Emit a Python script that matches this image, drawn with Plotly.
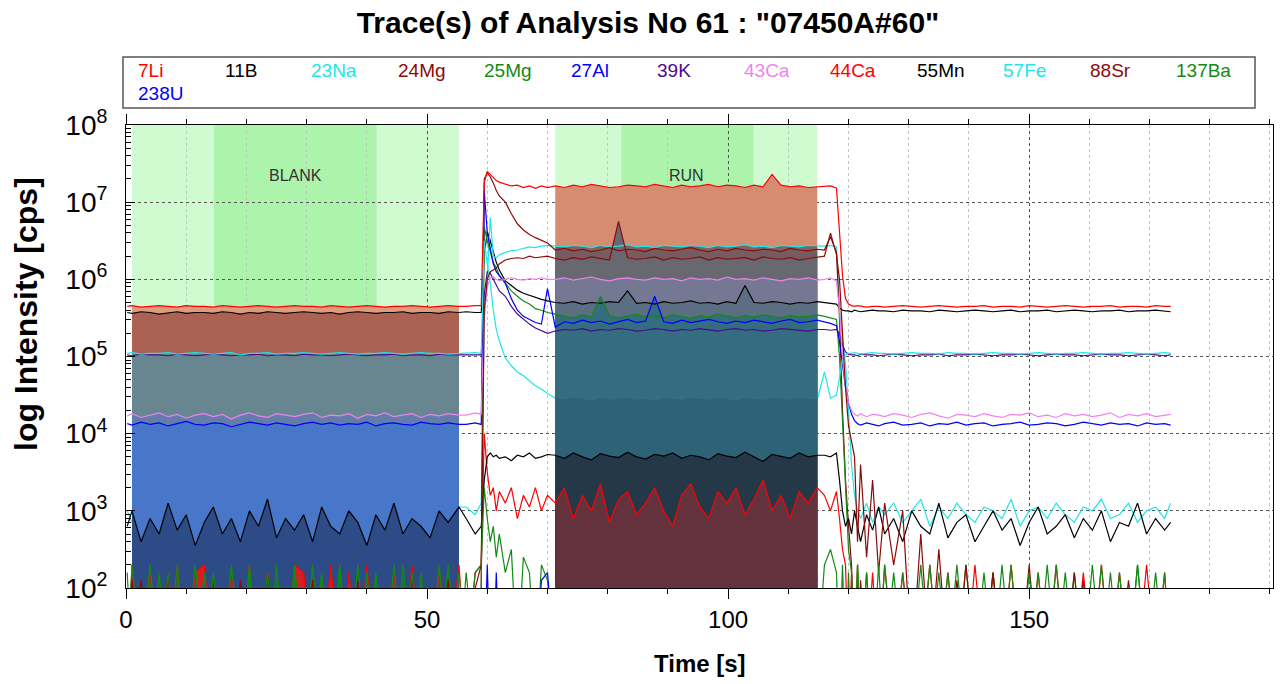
import plotly.graph_objects as go

# ---------------- data (time in s, intensities as log10 cps) ----------
T = [0.2, 1.0, 2.5, 4.0, 5.5, 7.0, 8.5, 10.0, 11.5, 13.0, 14.5, 16.0, 17.5, 19.0, 20.5, 22.0, 23.5, 25.0, 26.5,
     28.0, 29.5, 31.0, 32.5, 34.0, 35.5, 37.0, 38.5, 40.0, 41.5, 43.0, 44.5, 46.0, 47.5, 49.0, 50.5, 52.0, 53.5, 55.3,
     56.5, 58.0, 59.0, 59.5, 60.0, 60.5, 61.0, 61.5, 62.0, 63.0, 64.0, 65.0, 66.0, 67.0, 68.0, 69.0, 70.0,
     71.3, 72.8, 74.3, 75.8, 77.3, 78.8, 80.3, 81.8, 83.3, 84.8, 86.3, 87.8, 89.3, 90.8, 92.3, 93.8, 95.3, 96.8,
     98.3, 99.8, 101.3, 102.8, 104.3, 105.8, 107.3, 108.8, 110.3, 111.8, 113.3, 114.8,
     116.0, 117.0, 118.0, 118.5, 119.0, 119.5, 120.0, 120.5, 121.0, 121.5, 122.0, 123.0, 124.0, 125.0,
     126.0, 127.5, 129.0, 130.5, 132.0, 133.5, 135.0, 136.5, 138.0, 139.5, 141.0, 142.5, 144.0, 145.5, 147.0,
     148.5, 150.0, 151.5, 153.0, 154.5, 156.0, 157.5, 159.0, 160.5, 162.0, 163.5, 165.0, 166.5, 168.0, 169.5,
     171.0, 172.5, 173.5]

LI7 = [1.0,2.3,1.0,2.2,1.0,1.0,2.3,1.0,2.2,2.3, 1.0,1.0,2.2,1.0,2.3,1.0,2.2,1.0,1.0,2.3, 2.2,1.0,1.0,2.3,1.0,2.2,1.0,2.3,1.0,1.0, 2.2,1.0,2.3,1.0,1.0,2.2,1.0,2.3,
       1.0,2.2,2.3,4.00,3.50,3.20,3.30,3.00,3.25,3.10,3.30,2.90,3.20,3.05,3.30,3.00,3.20,
       3.10,3.30,2.90,3.20,3.00,3.35,2.85,3.15,3.25,2.95, 3.10,3.30,3.00,2.80,3.20,3.35,3.05,2.90,3.25,3.10, 3.30,2.95,3.15,3.40,3.00,3.20,2.90,3.25,3.10,3.30,
       3.20,3.00,3.25,2.90,2.50,2.30,1.0,2.2,1.0,2.3,1.0,1.0,2.2,1.0,
       2.3,1.0,2.2,1.0,1.0,2.3,1.0,2.2,1.0,1.0, 2.3,1.0,2.2,1.0,2.3,1.0,1.0,2.2,1.0,2.3, 1.0,1.0,2.2,1.0,2.3,1.0,2.2,1.0,1.0,2.3, 1.0,2.2,1.0]
B11 = [5.57,5.56,5.58,5.57,5.55,5.57,5.58,5.56,5.57,5.57, 5.56,5.58,5.57,5.55,5.57,5.56,5.58,5.57,5.56,5.57, 5.58,5.57,5.56,5.57,5.55,5.57,5.58,5.57,5.56,5.57, 5.57,5.58,5.56,5.57,5.57,5.56,5.58,5.57,
       5.58,5.57,5.57,6.30,6.62,6.50,6.36,6.22,6.12,5.98,5.92,5.86,5.82,5.79,5.76,5.74,5.72,
       5.70,5.69,5.71,5.68,5.70,5.69,5.71,5.70,5.85,5.69, 5.70,5.68,5.71,5.69,5.70,5.72,5.69,5.70,5.68,5.71, 5.69,5.92,5.70,5.69,5.71,5.70,5.68,5.70,5.69,5.71,
       5.70,5.69,5.68,5.63,5.60,5.59,5.59,5.58,5.60,5.59,5.58,5.59,5.60,5.59,
       5.59,5.58,5.60,5.59,5.59,5.58,5.60,5.59,5.58,5.59, 5.60,5.59,5.58,5.59,5.60,5.58,5.59,5.59,5.60,5.58, 5.59,5.60,5.59,5.58,5.59,5.59,5.60,5.58,5.59,5.59, 5.60,5.59,5.58]
NA23 = [3.00,2.85,3.10,2.95,3.05,2.80,3.00,3.15,2.90,3.05, 2.95,3.10,2.85,3.00,3.05,2.90,3.10,2.95,3.00,2.85, 3.05,3.00,2.90,3.10,2.95,3.05,2.85,3.00,3.10,2.95, 3.00,2.90,3.05,2.95,3.10,2.85,3.00,3.05,
        3.05,2.95,3.10,5.50,6.00,6.80,6.30,6.28,6.32,6.35,6.37,6.38,6.40,6.42,6.41,6.43,6.44,
        6.43,6.42,6.44,6.43,6.41,6.44,6.42,6.43,6.45,6.42, 6.43,6.41,6.44,6.43,6.42,6.44,6.43,6.41,6.44,6.42, 6.43,6.45,6.42,6.43,6.41,6.44,6.43,6.42,6.44,6.43,
        6.43,6.44,6.42,5.60,5.20,4.90,4.30,3.60,3.20,3.00,2.90,3.10,2.85,3.05,
        2.95,3.10,2.85,3.00,3.15,2.80,3.05,2.90,3.10,2.95, 2.85,3.05,3.00,2.90,3.15,2.80,3.00,3.05,2.90,3.10, 2.95,2.85,3.05,3.00,3.15,2.90,2.95,3.10,2.85,3.00, 3.05,2.90,3.10]
MG24 = [1.0,1.0,2.1,1.0,1.0,1.0,1.0,2.0,1.0,1.0, 1.0,1.0,1.0,2.1,1.0,1.0,1.0,1.0,1.0,1.0, 2.0,1.0,1.0,1.0,1.0,1.0,2.1,1.0,1.0,1.0, 1.0,1.0,1.0,2.0,1.0,1.0,1.0,1.0,
        1.0,1.0,2.0,7.30,7.38,7.33,7.25,7.15,7.08,7.00,6.85,6.72,6.64,6.58,6.54,6.50,6.47,
        6.38,6.40,6.37,6.39,6.36,6.38,6.41,6.37,6.39,6.38, 6.36,6.40,6.38,6.37,6.39,6.41,6.38,6.36,6.39,6.37, 6.40,6.38,6.37,6.39,6.38,6.36,6.40,6.38,6.37,6.39,
        6.38,6.55,6.35,5.50,4.30,3.40,2.80,2.30,1.0,1.0,2.1,1.0,1.0,1.0,
        1.0,1.0,2.0,1.0,1.0,1.0,1.0,1.0,2.1,1.0, 1.0,1.0,1.0,1.0,1.0,2.0,1.0,1.0,1.0,1.0, 1.0,1.0,2.1,1.0,1.0,1.0,1.0,1.0,1.0,2.0, 1.0,1.0,1.0]
MG25 = [1.0,2.3,1.0,1.0,2.2,1.0,2.3,1.0,1.0,2.2, 1.0,1.0,2.3,1.0,2.2,1.0,1.0,2.3,1.0,2.2, 1.0,2.3,1.0,1.0,2.2,1.0,2.3,1.0,2.2,1.0, 1.0,2.3,1.0,2.2,1.0,1.0,2.3,1.0,
        2.2,1.0,2.0,6.68,6.50,6.35,6.22,6.15,6.05,5.95,5.85,5.78,5.72,5.68,5.62,5.60,5.57,
        5.55,5.52,5.50,5.54,5.51,5.78,5.53,5.50,5.52,5.55, 5.51,5.53,5.50,5.54,5.52,5.49,5.53,5.51,5.55,5.52, 5.50,5.53,5.51,5.54,5.52,5.50,5.53,5.51,5.52,5.54,
        5.52,5.50,5.48,5.00,4.20,3.30,2.50,2.20,1.0,2.3,1.0,2.2,1.0,1.0,
        2.3,1.0,2.2,1.0,1.0,2.3,1.0,2.2,1.0,2.3, 1.0,1.0,2.2,1.0,2.3,1.0,1.0,2.2,1.0,2.3, 1.0,2.2,1.0,1.0,2.3,1.0,2.2,1.0,2.3,1.0, 1.0,2.2,1.0]
AL27 = [4.13,4.11,4.15,4.12,4.14,4.10,4.13,4.16,4.12,4.11, 4.14,4.13,4.09,4.12,4.15,4.13,4.11,4.14,4.12,4.10, 4.13,4.15,4.12,4.14,4.11,4.13,4.12,4.15,4.10,4.13, 4.14,4.12,4.11,4.15,4.13,4.12,4.14,4.12,
        4.12,4.14,4.12,7.15,6.60,6.40,6.20,6.10,6.05,5.95,5.75,5.60,5.52,5.48,5.44,5.42,5.88,
        5.38,5.45,5.43,5.47,5.44,5.46,5.42,5.45,5.48,5.44, 5.46,5.78,5.45,5.43,5.47,5.44,5.46,5.48,5.45,5.43, 5.46,5.44,5.47,5.45,5.43,5.46,5.48,5.44,5.45,5.47,
        5.45,5.43,5.40,5.20,4.90,4.60,4.40,4.25,4.17,4.13,4.11,4.14,4.12,4.10,
        4.13,4.15,4.11,4.12,4.14,4.10,4.13,4.12,4.15,4.11, 4.13,4.14,4.10,4.12,4.13,4.15,4.11,4.12,4.14,4.13, 4.10,4.12,4.15,4.13,4.11,4.14,4.12,4.13,4.10,4.14, 4.12,4.13,4.11]
K39 = [5.02,5.01,5.03,5.02,5.02,5.01,5.03,5.02,5.01,5.02, 5.03,5.02,5.01,5.02,5.02,5.03,5.01,5.02,5.02,5.01, 5.03,5.02,5.02,5.01,5.02,5.03,5.02,5.01,5.02,5.02, 5.03,5.01,5.02,5.02,5.01,5.03,5.02,5.02,
       5.02,5.02,5.02,5.80,6.10,6.08,6.00,5.92,5.85,5.78,5.65,5.55,5.48,5.42,5.37,5.33,5.30,
       5.33,5.35,5.34,5.36,5.33,5.35,5.34,5.36,5.35,5.33, 5.34,5.36,5.35,5.33,5.35,5.34,5.36,5.34,5.33,5.35, 5.36,5.34,5.35,5.33,5.34,5.36,5.35,5.34,5.33,5.35,
       5.35,5.34,5.35,5.30,5.15,5.06,5.03,5.02,5.02,5.01,5.03,5.02,5.02,5.01,
       5.02,5.03,5.02,5.01,5.02,5.02,5.03,5.01,5.02,5.02, 5.03,5.02,5.01,5.02,5.02,5.03,5.02,5.01,5.02,5.03, 5.02,5.02,5.01,5.02,5.03,5.02,5.02,5.01,5.02,5.03, 5.02,5.01,5.02]
CA43 = [4.23,4.26,4.21,4.24,4.27,4.22,4.25,4.20,4.24,4.26, 4.22,4.25,4.19,4.24,4.27,4.23,4.21,4.26,4.24,4.22, 4.25,4.27,4.21,4.24,4.23,4.26,4.20,4.25,4.23,4.27, 4.22,4.24,4.26,4.21,4.25,4.23,4.26,4.24,
        4.24,4.27,4.25,5.50,5.90,6.02,6.03,6.00,5.98,6.00,6.02,6.00,5.99,6.01,6.00,6.02,6.00,
        6.00,6.02,5.99,6.01,6.03,6.00,5.98,6.01,6.02,6.00, 5.99,6.02,6.00,6.01,5.98,6.02,6.00,6.01,5.99,6.03, 6.00,6.01,5.99,6.02,6.00,5.98,6.01,6.00,6.02,5.99,
        6.00,6.02,5.98,5.60,5.00,4.60,4.40,4.30,4.25,4.23,4.26,4.22,4.25,4.24,
        4.22,4.26,4.24,4.21,4.25,4.27,4.23,4.20,4.25,4.24, 4.22,4.26,4.23,4.21,4.25,4.24,4.27,4.22,4.24,4.21, 4.26,4.23,4.25,4.22,4.24,4.27,4.21,4.25,4.23,4.26, 4.22,4.24,4.25]
CA44 = [5.65,5.66,5.64,5.65,5.66,5.65,5.64,5.66,5.65,5.65, 5.64,5.66,5.65,5.64,5.65,5.66,5.65,5.64,5.65,5.66, 5.65,5.65,5.64,5.66,5.65,5.64,5.65,5.66,5.65,5.64, 5.65,5.65,5.66,5.65,5.64,5.65,5.66,5.65,
        5.65,5.66,5.66,7.25,7.40,7.36,7.32,7.28,7.26,7.23,7.21,7.22,7.19,7.21,7.18,7.21,7.19,
        7.21,7.19,7.22,7.20,7.23,7.21,7.19,7.20,7.22,7.21, 7.20,7.23,7.21,7.19,7.22,7.20,7.21,7.23,7.20,7.22, 7.21,7.19,7.22,7.20,7.36,7.22,7.20,7.21,7.19,7.20,
        7.20,7.21,7.18,6.60,6.05,5.75,5.68,5.66,5.65,5.66,5.65,5.64,5.65,5.65,
        5.64,5.65,5.66,5.65,5.64,5.65,5.66,5.65,5.64,5.65, 5.65,5.66,5.64,5.65,5.65,5.64,5.66,5.65,5.64,5.65, 5.66,5.65,5.64,5.65,5.65,5.66,5.64,5.65,5.65,5.64, 5.66,5.65,5.65]
MN55 = [2.80,3.00,2.60,2.90,2.70,3.10,2.75,2.95,2.55,2.85, 3.05,2.70,2.90,2.60,3.00,2.80,3.15,2.65,2.90,2.75, 2.95,2.60,3.05,2.80,2.70,3.00,2.85,2.55,2.95,2.75, 3.10,2.70,2.90,2.80,2.65,3.00,2.85,3.05,
        2.90,2.70,2.80,3.40,3.70,3.75,3.70,3.72,3.68,3.70,3.65,3.72,3.70,3.75,3.68,3.70,3.73,
        3.72,3.68,3.75,3.70,3.66,3.74,3.71,3.69,3.76,3.70, 3.67,3.73,3.71,3.75,3.68,3.72,3.70,3.66,3.74,3.71, 3.69,3.76,3.70,3.64,3.73,3.71,3.68,3.75,3.70,3.72,
        3.72,3.70,3.75,3.40,3.00,2.80,2.90,2.70,3.00,2.80,2.60,2.95,2.75,3.05,
        2.70,2.90,2.60,3.00,2.80,2.70,3.10,2.65,2.85,2.95, 2.60,2.80,3.00,2.75,2.90,2.55,2.85,3.05,2.70,2.80, 2.95,2.65,2.90,2.75,3.00,2.60,2.85,2.80,3.10,2.70, 2.90,2.75,2.85]
FE57 = [5.04,5.05,5.03,5.04,5.04,5.05,5.03,5.04,5.05,5.04, 5.03,5.04,5.05,5.02,5.04,5.04,5.05,5.03,5.04,5.04, 5.05,5.04,5.03,5.04,5.05,5.04,5.03,5.04,5.04,5.05, 5.04,5.03,5.04,5.05,5.04,5.04,5.03,5.04,
        5.04,5.05,5.04,6.50,6.20,5.95,5.60,5.35,5.20,4.98,4.88,4.80,4.75,4.68,4.62,4.58,4.52,
        4.46,4.44,4.47,4.45,4.43,4.46,4.44,4.45,4.47,4.44, 4.45,4.43,4.46,4.45,4.44,4.47,4.45,4.44,4.46,4.45, 4.43,4.46,4.45,4.44,4.47,4.45,4.44,4.46,4.45,4.44,
        4.80,4.46,4.50,4.70,4.95,5.02,5.04,5.04,5.05,5.04,5.03,5.04,5.05,5.04,
        5.04,5.03,5.04,5.05,5.04,5.04,5.03,5.05,5.04,5.04, 5.03,5.04,5.05,5.04,5.04,5.03,5.04,5.05,5.04,5.03, 5.04,5.04,5.05,5.04,5.03,5.04,5.04,5.05,5.04,5.03, 5.04,5.05,5.04]
SR88 = [1.0,2.1,1.0,1.0,1.0,2.2,1.0,1.0,1.0,1.0, 2.1,1.0,1.0,1.0,1.0,1.0,2.2,1.0,1.0,1.0, 1.0,2.1,1.0,1.0,1.0,1.0,1.0,2.0,1.0,1.0, 1.0,1.0,2.2,1.0,1.0,1.0,2.1,1.0,
        1.0,2.0,2.3,5.60,6.00,6.10,6.12,6.15,6.20,6.25,6.27,6.28,6.27,6.30,6.28,6.29,6.30,
        6.27,6.25,6.28,6.26,6.29,6.27,6.25,6.75,6.28,6.26, 6.27,6.29,6.25,6.28,6.26,6.27,6.29,6.25,6.28,6.26, 6.27,6.28,6.25,6.29,6.27,6.26,6.28,6.25,6.27,6.29,
        6.30,6.60,6.32,6.00,5.30,4.60,4.10,3.90,3.70,2.60,3.60,2.40,3.40,2.20,
        3.10,2.30,3.00,1.0,2.70,1.0,2.50,1.0,1.0,2.30, 1.0,1.0,2.20,1.0,1.0,1.0,2.30,1.0,1.0,1.0, 1.0,2.20,1.0,1.0,1.0,1.0,1.0,2.10,1.0,1.0, 1.0,1.0,1.0]
BA137 = [2.2,1.0,1.0,2.3,1.0,2.2,1.0,1.0,2.3,1.0, 2.2,1.0,1.0,1.0,2.3,1.0,2.2,1.0,1.0,2.3, 1.0,1.0,2.2,1.0,2.3,1.0,1.0,2.2,1.0,1.0, 2.3,1.0,2.2,1.0,1.0,2.3,1.0,2.2,
         1.0,2.2,2.3,3.30,2.90,2.60,2.80,2.40,2.70,2.20,2.50,1.0,2.40,2.20,1.0,2.30,2.10,
         1.0,1.0,1.0,1.0,1.0,1.0,1.0,1.0,1.0,1.0, 1.0,1.0,1.0,1.0,1.0,1.0,1.0,1.0,1.0,1.0, 1.0,1.0,1.0,1.0,1.0,1.0,1.0,1.0,1.0,1.0,
         2.3,2.5,2.2,1.0,2.3,1.0,2.2,1.0,1.0,2.3,1.0,2.2,1.0,2.3,
         1.0,2.2,1.0,1.0,2.3,1.0,2.2,1.0,2.3,1.0, 1.0,2.2,1.0,2.3,1.0,1.0,2.2,1.0,2.3,1.0, 2.2,1.0,1.0,2.3,1.0,2.2,1.0,1.0,2.3,1.0, 2.2,1.0,1.0]
U238 = [1.0,1.0,1.0,1.0,1.0,1.0,1.0,1.0,1.0,1.0, 1.0,1.0,1.0,1.0,1.0,1.0,1.0,1.0,1.0,1.0, 1.0,1.0,1.0,1.0,1.0,1.0,1.0,1.0,1.0,1.0, 1.0,1.0,1.0,1.0,1.0,1.0,1.0,1.0,
        1.0,1.0,1.0,1.0,2.30,1.0,1.0,2.20,1.0,1.0,1.0,1.0,1.0,1.0,1.0,2.10,2.20,
        1.0,1.0,1.0,1.0,1.0,1.0,1.0,1.0,1.0,1.0, 1.0,1.0,1.0,1.0,1.0,1.0,1.0,1.0,1.0,1.0, 1.0,1.0,1.0,1.0,1.0,1.0,1.0,1.0,1.0,1.0,
        1.0,1.0,1.0,1.0,1.0,1.0,1.0,1.0,1.0,1.0,1.0,1.0,1.0,1.0,
        1.0,1.0,1.0,1.0,1.0,1.0,1.0,1.0,1.0,1.0, 1.0,1.0,1.0,1.0,1.0,1.0,1.0,1.0,1.0,1.0, 1.0,1.0,1.0,1.0,1.0,1.0,1.0,1.0,1.0,1.0, 1.0,1.0,1.0]

NAMES = ["7Li", "11B", "23Na", "24Mg", "25Mg", "27Al", "39K", "43Ca", "44Ca", "55Mn", "57Fe", "88Sr", "137Ba", "238U"]
SERIES = [LI7, B11, NA23, MG24, MG25, AL27, K39, CA43, CA44, MN55, FE57, SR88, BA137, U238]
COLORS = ["#FF0000", "#000000", "#1EE6E6", "#8B0A0A", "#138A13", "#0000FF", "#4B0A8C", "#EE82EE",
          "#FF0000", "#000000", "#1EE6E6", "#8B0A0A", "#138A13", "#0000FF"]

# integration windows: name, start, end, inner (darker) start, inner end
WINDOWS = [("BLANK", 1.0, 55.3, 14.6, 41.6), ("RUN", 71.3, 114.8, 82.3, 104.2)]
# fill order (top level first) and band colours per window
FILLS = {
    "BLANK": [("44Ca", "rgb(224,155,127)"), ("11B", "rgb(172,98,82)"), ("57Fe", "rgb(103,134,143)"),
              ("39K", "rgb(103,134,143)"), ("43Ca", "rgb(98,124,172)"), ("27Al", "rgb(72,118,200)"),
              ("23Na", "rgb(72,118,200)"), ("55Mn", "rgb(45,75,135)"), ("7Li", "rgb(215,30,35)"),
              ("25Mg", "rgb(30,108,80)"), ("137Ba", "rgb(30,108,80)"), ("24Mg", "rgb(110,40,50)"),
              ("88Sr", "rgb(110,40,50)"), ("238U", "rgb(50,90,170)")],
    "RUN": [("44Ca", "rgb(214,140,112)"), ("23Na", "rgb(128,98,96)"), ("24Mg", "rgb(118,92,96)"),
            ("88Sr", "rgb(104,104,112)"), ("43Ca", "rgb(116,120,146)"), ("11B", "rgb(92,110,130)"),
            ("25Mg", "rgb(52,108,128)"), ("27Al", "rgb(52,108,128)"), ("39K", "rgb(52,108,128)"),
            ("57Fe", "rgb(46,98,118)"), ("55Mn", "rgb(36,56,72)"), ("7Li", "rgb(100,50,60)"),
            ("137Ba", "rgb(100,50,60)"), ("238U", "rgb(100,50,60)")],
}
FLOOR = 1.0  # log10 cps, below the axis

for n, s in zip(NAMES, SERIES):
    assert len(s) == len(T), (n, len(s), len(T))

LIN = {n: [10 ** v for v in s] for n, s in zip(NAMES, SERIES)}
COL = dict(zip(NAMES, COLORS))

# ---------------- layout geometry (pixels) ----------------
W, H = 1280, 684
ML, MR, MT, MB = 126, 7, 125, 96
PW, PH = W - ML - MR, H - MT - MB


def px(xp):
    return (xp - ML) / PW


def py(yp):
    return (H - MB - yp) / PH


fig = go.Figure()


def line(name, idx):
    fig.add_trace(go.Scatter(x=[T[i] for i in idx], y=[LIN[name][i] for i in idx], mode="lines",
                             line=dict(color=COL[name], width=1.2), hoverinfo="skip", showlegend=False))


ALL = list(range(len(T)))
# lines hidden underneath the window fills in the original drawing
line("23Na", [i for i in ALL if T[i] <= 58.0])
line("57Fe", [i for i in ALL if 70.0 <= T[i] <= 116.0])

# window fills
for wname, a, b, _, _ in WINDOWS:
    idx = [i for i in ALL if a <= T[i] <= b]
    for name, fc in FILLS[wname]:
        xs = [a] + [T[i] for i in idx] + [b]
        ys = [10 ** FLOOR] + [LIN[name][i] for i in idx] + [10 ** FLOOR]
        fig.add_trace(go.Scatter(x=xs, y=ys, mode="lines", fill="toself", fillcolor=fc,
                                 line=dict(width=0), hoverinfo="skip", showlegend=False))

# visible lines, in legend order
for name in NAMES:
    if name == "23Na":
        line(name, [i for i in ALL if T[i] >= 58.0])
    elif name == "57Fe":
        line(name, [i for i in ALL if T[i] <= 70.0])
        line(name, [i for i in ALL if T[i] >= 116.0])
    else:
        line(name, ALL)

shapes = []
annotations = []
for wname, a, b, ia, ib in WINDOWS:
    shapes.append(dict(type="rect", xref="x", yref="paper", x0=a, x1=b, y0=0, y1=1,
                       fillcolor="rgb(208,250,208)", line=dict(width=0), layer="below"))
    shapes.append(dict(type="rect", xref="x", yref="paper", x0=ia, x1=ib, y0=0, y1=1,
                       fillcolor="rgb(172,243,172)", line=dict(width=0), layer="below"))
    annotations.append(dict(x=(a + b) / 2, y=py(175), xref="x", yref="paper", text=wname, showarrow=False,
                            font=dict(size=16, color="#333333"), xanchor="center", yanchor="middle"))

# legend box with coloured names
shapes.append(dict(type="rect", xref="paper", yref="paper", x0=px(123), x1=px(1255), y0=py(108), y1=py(57),
                   fillcolor="white", line=dict(color="#555555", width=1.5), layer="above"))
for k, name in enumerate(NAMES):
    row, col = divmod(k, 13)
    annotations.append(dict(x=px(136 + 86.5 * col), y=py(70 + 24 * row), xref="paper", yref="paper", text=name,
                            showarrow=False, xanchor="left", yanchor="middle",
                            font=dict(size=19, color=COL[name])))

annotations.append(dict(x=px(700), y=py(663), xref="paper", yref="paper", text="<b>Time [s]</b>",
                        showarrow=False, xanchor="center", yanchor="middle", font=dict(size=24, color="black")))
annotations.append(dict(x=px(26), y=py(314), xref="paper", yref="paper", text="<b>log Intensity [cps]</b>",
                        showarrow=False, textangle=-90, xanchor="center", yanchor="middle",
                        font=dict(size=32, color="black")))

YT = [1e2, 1e3, 1e4, 1e5, 1e6, 1e7, 1e8]
YTT = ["10<sup>2</sup>", "10<sup>3</sup>", "10<sup>4</sup>", "10<sup>5</sup>", "10<sup>6</sup>", "10<sup>7</sup>",
       "10<sup>8</sup>"]
XT = [0, 50, 100, 150]

fig.update_layout(
    width=W, height=H, margin=dict(l=ML, r=MR, t=MT, b=MB),
    paper_bgcolor="white", plot_bgcolor="white",
    font=dict(family="Liberation Sans, Arial, sans-serif", color="black", size=16),
    title=dict(text='<b>Trace(s) of Analysis No 61 : "07450A#60"</b>', x=648 / W, xref="container",
               xanchor="center", y=1 - 22 / H, yanchor="middle", font=dict(size=30, color="black")),
    shapes=shapes, annotations=annotations, showlegend=False,
    xaxis=dict(range=[0, 190.5], tickmode="array", tickvals=XT, ticktext=[str(v) for v in XT],
               ticks="outside", ticklen=10, tickcolor="black", showline=True, linecolor="black", linewidth=1,
               mirror="ticks", tickfont=dict(size=24), zeroline=False,
               showgrid=True, gridcolor="#555555", griddash="dot", gridwidth=1,
               minor=dict(dtick=10, tick0=0, ticks="outside", ticklen=5, tickcolor="black",
                          showgrid=True, gridcolor="#c4c4c4", griddash="dot", gridwidth=1)),
    yaxis=dict(type="log", range=[2, 8], tickmode="array", tickvals=YT, ticktext=YTT,
               ticks="inside", ticklen=9, tickcolor="black", showline=True, linecolor="black", linewidth=1,
               mirror=True, tickfont=dict(size=28), ticklabelstandoff=12, zeroline=False,
               showgrid=True, gridcolor="#555555", griddash="dot", gridwidth=1,
               minor=dict(dtick="D1", ticks="inside", ticklen=5, tickcolor="black", showgrid=False)),
)

fig.write_html("out.html")
